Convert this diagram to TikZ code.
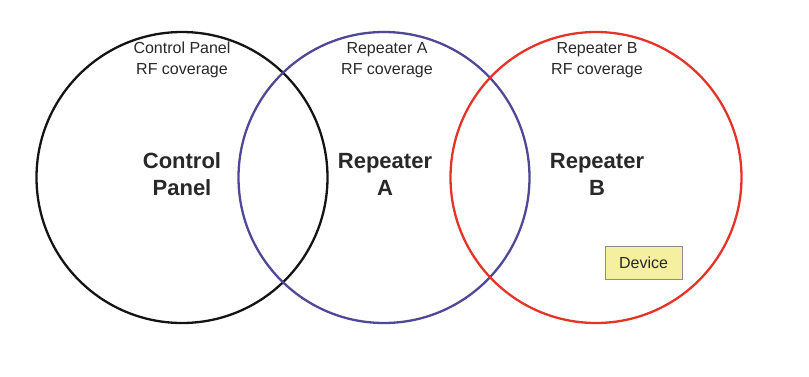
\documentclass[tikz,border=0pt]{standalone}
\usepackage{fontspec}
\setmainfont{Liberation Sans}
\definecolor{panelblack}{RGB}{20, 20, 20}
\definecolor{repablue}{RGB}{80, 72, 150}
\definecolor{repbred}{RGB}{228, 52, 40}
\definecolor{devicefill}{RGB}{245, 240, 160}
\definecolor{textgrey}{RGB}{40, 40, 40}
\usepackage{tikz}
\usetikzlibrary{positioning}

\begin{document}
\begin{tikzpicture}[x=1pt, y=-1pt,
  coverage/.style={circle, line width=2.3pt, minimum size=291pt, inner sep=0pt},
  rflabel/.style={align=center, font=\fontsize{16}{21}\selectfont, text=textgrey},
  unitlabel/.style={align=center, font=\fontsize{22}{27}\selectfont\bfseries, text=textgrey},
  devicebox/.style={draw=black!45, fill=devicefill, minimum width=77pt, minimum height=33pt, font=\fontsize{16}{20}\selectfont, text=textgrey}]
  \useasboundingbox (0,0) rectangle (809,376);
  % coverage circles
  \node[coverage, draw=panelblack] (panel) at (182,177.5) {};
  \node[coverage, draw=repablue] (repA) at (384,177.5) {};
  \node[coverage, draw=repbred] (repB) at (596,177.5) {};
  % coverage labels
  \node[rflabel] (panelrf) at (182,60) {Control Panel\\RF coverage};
  \node[rflabel] (repArf) at (387,60) {Repeater A\\RF coverage};
  \node[rflabel] (repBrf) at (597,60) {Repeater B\\RF coverage};
  % unit labels
  \node[unitlabel] (panelname) at (182,174) {Control\\Panel};
  \node[unitlabel] (repAname) at (385,174) {Repeater\\A};
  \node[unitlabel] (repBname) at (597,174) {Repeater\\B};
  % device
  \node[devicebox] (device) at (643.5,262.5) {Device};
\end{tikzpicture}
\end{document}
